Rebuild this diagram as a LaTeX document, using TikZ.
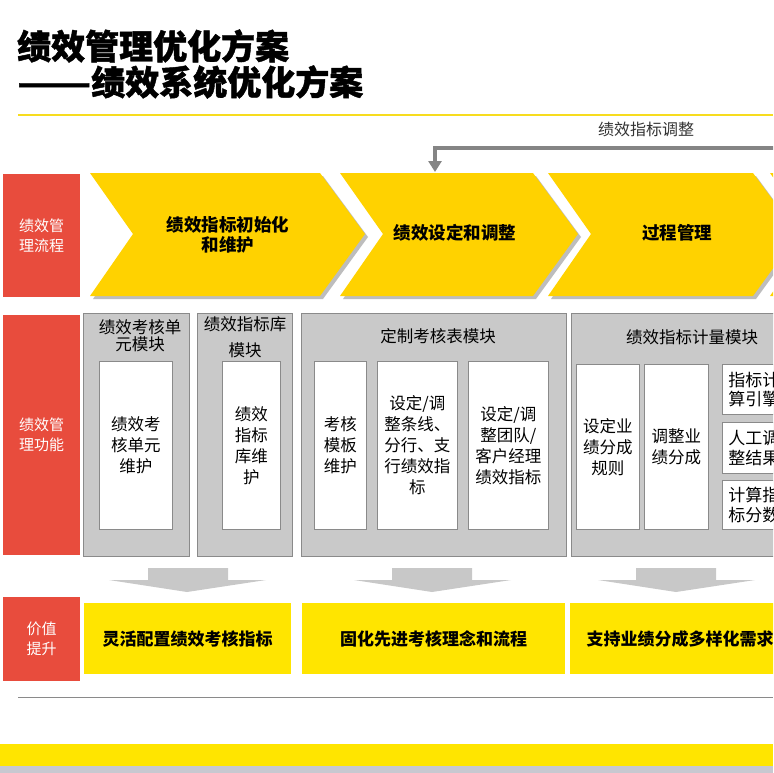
\documentclass[tikz,border=0pt]{standalone}
\usepackage{fontspec}
\newfontfamily\cjk{Noto Sans CJK SC}
\newfontfamily\cjkt{Noto Sans CJK SC}[BoldFeatures={FakeBold=1.3}]
\usetikzlibrary{arrows.meta}
\definecolor{redbox}{HTML}{E84C3D}
\definecolor{chevy}{HTML}{FFD200}
\definecolor{valy}{HTML}{FFE500}
\definecolor{liney}{HTML}{F7DC1E}
\definecolor{gbox}{HTML}{C9C9C9}
\definecolor{gline}{HTML}{8A8A8A}
\definecolor{arrg}{HTML}{C8C8C8}
\definecolor{shad}{HTML}{BDBDBD}
\definecolor{fbg}{HTML}{858585}
\definecolor{botg}{HTML}{C8C8D0}
\tikzset{
  lab/.style={fill=redbox, text=white, align=center, inner sep=0pt, anchor=north west,
    font=\cjk\fontsize{15}{20}\selectfont},
  chevtxt/.style={align=center, inner sep=0pt, font=\cjk\bfseries\fontsize{17.5}{20.5}\selectfont},
  modbox/.style={fill=gbox, draw=gline, line width=0.8pt, anchor=north west, inner sep=0pt},
  modtitle/.style={align=center, inner sep=0pt, font=\cjk\fontsize{16.5}{17}\selectfont},
  cell/.style={fill=white, draw=gline, line width=0.8pt, anchor=north west, align=center,
    inner sep=0pt, font=\cjk\fontsize{16.5}{21}\selectfont},
  smallcell/.style={fill=white, draw=gline, line width=0.8pt, anchor=north west, align=left,
    inner xsep=6pt, inner ysep=0pt, text width=62pt, font=\cjk\fontsize{17}{19.5}\selectfont},
  valbox/.style={fill=valy, anchor=north west, inner sep=0pt, align=center,
    font=\cjk\bfseries\fontsize{17}{20}\selectfont},
  chev/.style={fill=chevy},
  chevshadow/.style={fill=shad},
  downarr/.style={fill=arrg},
  feedback/.style={draw=fbg, line width=3.5pt, -{Triangle[width=13pt,length=11pt]}},
  titletxt/.style={anchor=west, inner sep=0pt, font=\cjkt\bfseries\fontsize{34}{40}\selectfont}
}
\begin{document}
\begin{tikzpicture}[x=1pt,y=-1pt]
\useasboundingbox (0,0) rectangle (773,773);
\clip (0,0) rectangle (773,773);
\fill[white] (0,0) rectangle (773,773);

% title
\node[titletxt] (t1) at (17,46) {绩效管理优化方案};
\node[titletxt] (t2) at (17,82) {\scalebox{1.27}[1]{——}绩效系统优化方案};
\draw[liney, line width=2pt] (18,115) -- (773,115);

% feedback arrow
\node[inner sep=0pt, text=black!80, font=\cjk\fontsize{16}{18}\selectfont] (fblab) at (646,129) {绩效指标调整};
\coordinate (fbR) at (790,148);
\coordinate (c2in) at (435,172);
\draw[feedback] (fbR) -| (c2in);

% row 1 label
\node[lab, minimum width=77pt, minimum height=123pt] (l1) at (3,174) {绩效管\\理流程};

% chevrons
\foreach \a/\b in {90/320, 340/533, 548/753, 770/1000}{
  \pgfmathsetmacro{\n}{\a+43}
  \pgfmathsetmacro{\t}{\b+45}
  \fill[chevshadow] (\a+3,176) -- (\b+3,176) -- (\t+3,237) -- (\b+3,299) -- (\a+3,299) -- (\n+3,237) -- cycle;
  \fill[chev] (\a,173) -- (\b,173) -- (\t,234) -- (\b,296) -- (\a,296) -- (\n,234) -- cycle;
}
\node[chevtxt] (c1) at (228,235) {绩效指标初始化\\和维护};
\node[chevtxt] (c2) at (455,233) {绩效设定和调整};
\node[chevtxt] (c3) at (677,233) {过程管理};

% row 2 label
\node[lab, minimum width=77pt, minimum height=240pt] (l2) at (3,315) {绩效管\\理功能};

% module A
\node[modbox, minimum width=106pt, minimum height=243pt] (mA) at (83,313) {};
\node[modtitle] (mAt) at (140,336) {绩效考核单\\元模块};
\node[cell, minimum width=73pt, minimum height=168pt] (a1) at (99,361) {绩效考\\核单元\\维护};

% module B
\node[modbox, minimum width=95pt, minimum height=243pt] (mB) at (197,313) {};
\node[modtitle] (mBt) at (245,337) {绩效指标库\\[9pt]模块};
\node[cell, minimum width=58pt, minimum height=168pt] (b1) at (222,361) {绩效\\指标\\库维\\护};

% module C
\node[modbox, minimum width=265pt, minimum height=243pt] (mC) at (301,313) {};
\node[modtitle] (mCt) at (438,336) {定制考核表模块};
\node[cell, minimum width=52pt, minimum height=168pt] (cc1) at (314,361) {考核\\模板\\维护};
\node[cell, minimum width=80pt, minimum height=168pt] (cc2) at (377,361) {设定/调\\整条线、\\分行、支\\行绩效指\\标};
\node[cell, minimum width=80pt, minimum height=168pt] (cc3) at (468,361) {设定/调\\整团队/\\客户经理\\绩效指标};

% module D
\node[modbox, minimum width=230pt, minimum height=243pt] (mD) at (571,313) {};
\node[modtitle] (mDt) at (692,337) {绩效指标计量模块};
\node[cell, minimum width=63pt, minimum height=165pt] (d1) at (576,364) {设定业\\绩分成\\规则};
\node[cell, minimum width=64pt, minimum height=165pt] (d2) at (644,364) {调整业\\绩分成};
\node[smallcell, minimum height=50pt] (d3) at (722,364) {指标计\\算引擎};
\node[smallcell, minimum height=51pt] (d4) at (722,422) {人工调\\整结果};
\node[smallcell, minimum height=49pt] (d5) at (722,480) {计算指\\标分数};

% down arrows
\foreach \s/\tip in {148/187, 392/432, 636/676}{
  \fill[downarr] (\s,568) -- (\s+80,568) -- (\s+80,580) -- (\tip+79,580) -- (\tip,592) -- (\tip-78,580) -- (\s,580) -- cycle;
}

% row 3
\node[lab, minimum width=77pt, minimum height=84pt] (l3) at (3,597) {价值\\提升};
\node[valbox, minimum width=207pt, minimum height=71pt] (v1) at (84,603) {灵活配置绩效考核指标};
\node[valbox, minimum width=263pt, minimum height=71pt] (v2) at (302,603) {固化先进考核理念和流程};
\node[valbox, minimum width=220pt, minimum height=71pt] (v3) at (570,603) {支持业绩分成多样化需求};

% bottom
\draw[gline, line width=1pt] (18,697) -- (773,697);
\fill[valy] (0,744) rectangle (773,766);
\fill[botg] (0,766) rectangle (773,773);
\end{tikzpicture}
\end{document}
